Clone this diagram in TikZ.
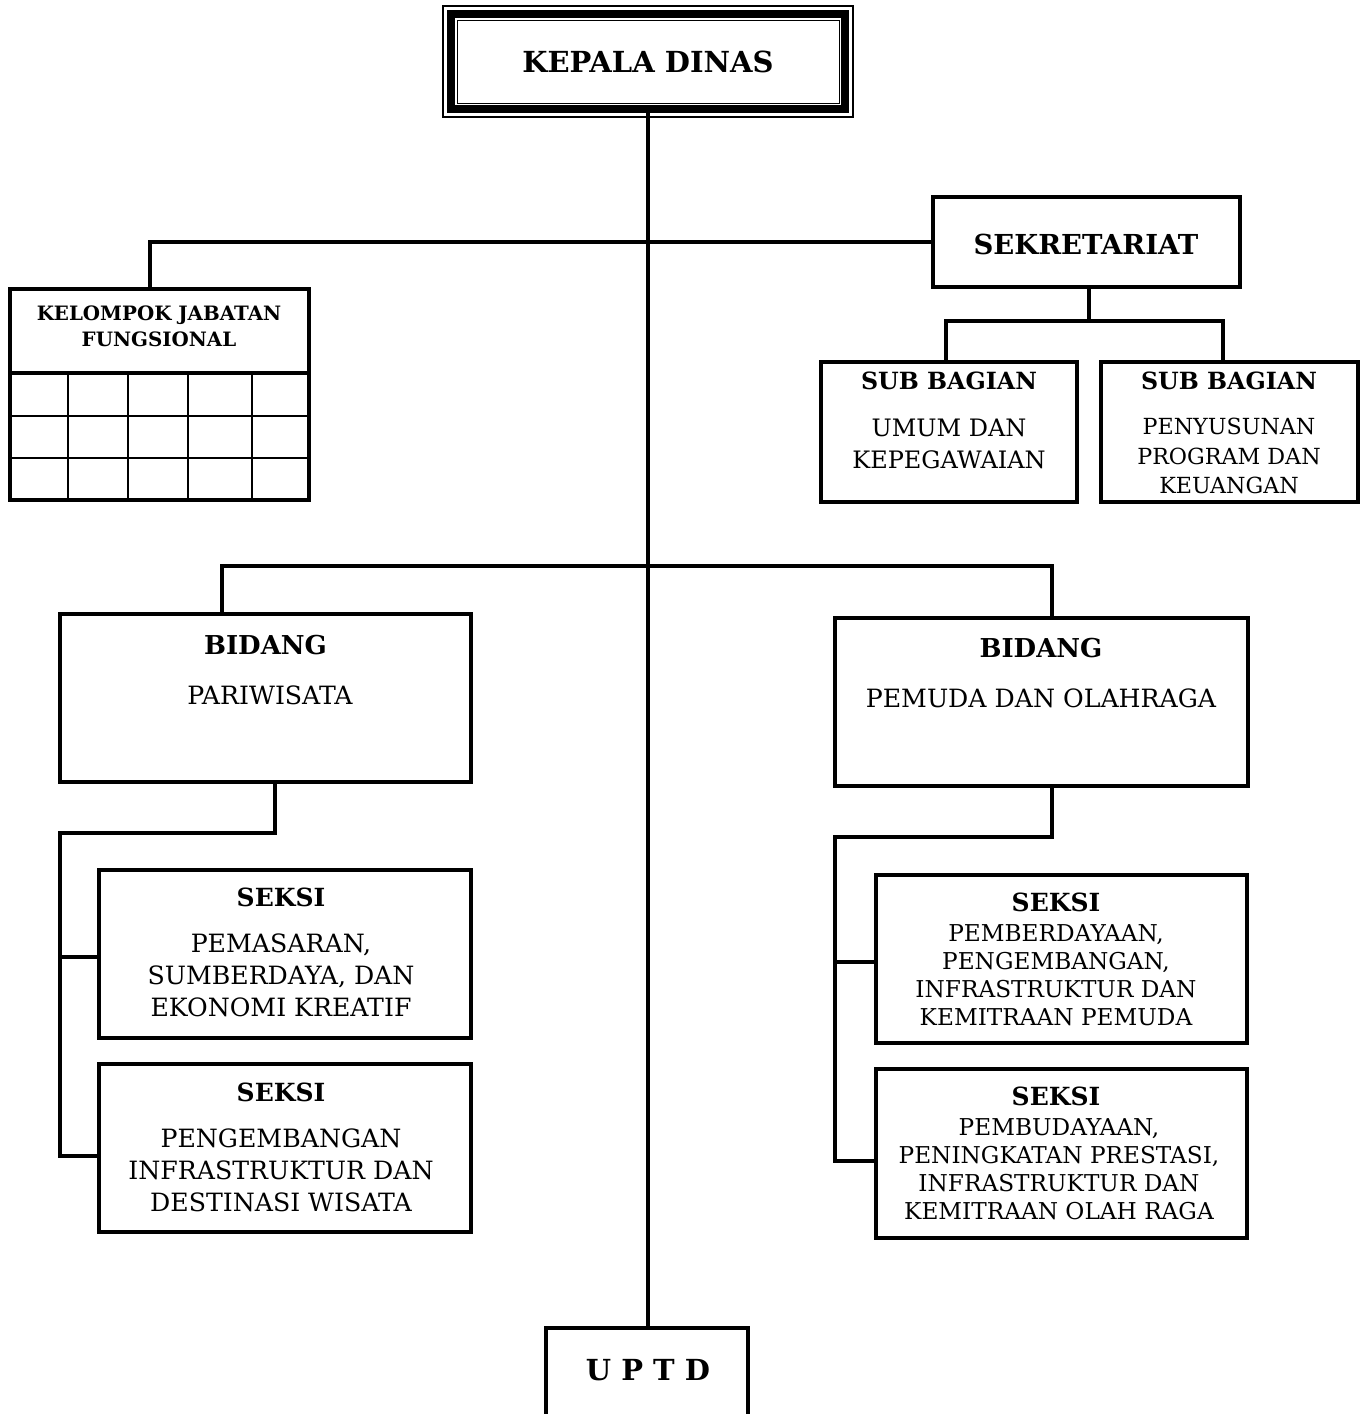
\documentclass[tikz,border=0pt]{standalone}
\usepackage{fontspec}
\setmainfont{DejaVu Serif}
\begin{document}
\begin{tikzpicture}[x=1pt,y=-1pt,
  box/.style={draw, line width=4pt, inner sep=0pt, outer sep=0pt},
  conn/.style={line width=4pt},
  lbl/.style={align=center, inner sep=0pt},
  bA/.style={font=\bfseries\fontsize{29}{36}\selectfont},
  bS/.style={font=\bfseries\fontsize{27.5}{32}\selectfont},
  bB/.style={font=\bfseries\fontsize{23.7}{30}\selectfont},
  bD/.style={font=\bfseries\fontsize{26}{30}\selectfont},
  bE/.style={font=\bfseries\fontsize{25}{30}\selectfont},
  bC/.style={font=\bfseries\fontsize{19.8}{26}\selectfont},
  rA/.style={font=\fontsize{25.2}{32}\selectfont},
  rU/.style={font=\fontsize{24}{32}\selectfont},
  rB/.style={font=\fontsize{22.2}{29.5}\selectfont},
  rC/.style={font=\fontsize{23.2}{28}\selectfont}]
\useasboundingbox (0,0) rectangle (1370,1414);
\clip (0,0) rectangle (1370,1414);

% KEPALA DINAS
\node[box, line width=8pt, minimum width=394pt, minimum height=95pt] (kd) at (648,61.5) {};
\draw[line width=1.2pt] ([shift={(-8,-8)}]kd.north west) rectangle ([shift={(8,8)}]kd.south east);
\draw[line width=0.8pt] ([shift={(6,6)}]kd.north west) rectangle ([shift={(-6,-6)}]kd.south east);
\node[lbl, bA] (kdt) at (648,62) {KEPALA DINAS};

% SEKRETARIAT
\node[box, minimum width=307pt, minimum height=90pt] (sek) at (1086.5,242) {};
\node[lbl, bS] (sekt) at (1086,244) {SEKRETARIAT};

% KELOMPOK JABATAN FUNGSIONAL
\node[box, minimum width=299pt, minimum height=211pt] (kjf) at (159.5,394.5) {};
\draw[line width=3.5pt] (10,373) -- (309,373);
\draw[line width=2pt] (10,416) -- (309,416) (10,458) -- (309,458);
\foreach \gx in {68,128,188,252} \draw[line width=2pt] (\gx,373) -- (\gx,500);
\node[lbl, bC] (kjft) at (159,326) {KELOMPOK JABATAN\\FUNGSIONAL};

% SUB BAGIAN
\node[box, minimum width=256pt, minimum height=140pt] (sb1) at (949,432) {};
\node[box, minimum width=257pt, minimum height=140pt] (sb2) at (1229.5,432) {};
\node[lbl, bB] (sb1h) at (949,381) {SUB BAGIAN};
\node[lbl, rU] (sb1t) at (949,444) {UMUM DAN\\KEPEGAWAIAN};
\node[lbl, bB] (sb2h) at (1229,381) {SUB BAGIAN};
\node[lbl, rB] (sb2t) at (1229,456) {PENYUSUNAN\\PROGRAM DAN\\KEUANGAN};

% BIDANG
\node[box, minimum width=411pt, minimum height=168pt] (bd1) at (265.5,698) {};
\node[box, minimum width=413pt, minimum height=168pt] (bd2) at (1041.5,702) {};
\node[lbl, bD] (bd1h) at (265.5,645) {BIDANG};
\node[lbl, rA] (bd1t) at (270,695) {PARIWISATA};
\node[lbl, bD] (bd2h) at (1041,648) {BIDANG};
\node[lbl, rA] (bd2t) at (1041,698) {PEMUDA DAN OLAHRAGA};

% SEKSI left
\node[box, minimum width=372pt, minimum height=168pt] (sl1) at (285,954) {};
\node[box, minimum width=372pt, minimum height=168pt] (sl2) at (285,1148) {};
\node[lbl, bE] (sl1h) at (281,897) {SEKSI};
\node[lbl, rA] (sl1t) at (281,975) {PEMASARAN,\\SUMBERDAYA, DAN\\EKONOMI KREATIF};
\node[lbl, bE] (sl2h) at (281,1092) {SEKSI};
\node[lbl, rA] (sl2t) at (281,1170) {PENGEMBANGAN\\INFRASTRUKTUR DAN\\DESTINASI WISATA};

% SEKSI right
\node[box, minimum width=371pt, minimum height=168pt] (sr1) at (1061.5,959) {};
\node[box, minimum width=371pt, minimum height=169pt] (sr2) at (1061.5,1153.5) {};
\node[lbl, bE] (sr1h) at (1056,902) {SEKSI};
\node[lbl, rC] (sr1t) at (1056,975.5) {PEMBERDAYAAN,\\PENGEMBANGAN,\\INFRASTRUKTUR DAN\\KEMITRAAN PEMUDA};
\node[lbl, bE] (sr2h) at (1056,1096) {SEKSI};
\node[lbl, rC] (sr2t) at (1059,1169.5) {PEMBUDAYAAN,\\PENINGKATAN PRESTASI,\\INFRASTRUKTUR DAN\\KEMITRAAN OLAH RAGA};

% UPTD
\node[box, minimum width=202pt, minimum height=144pt] (uptd) at (647,1400) {};
\node[lbl, bA] (uptdt) at (648,1370) {U P T D};

% connectors
\draw[conn] (kd.south) -- (648,1328);
\draw[conn] (sek.west) -| ([xshift=-9.5pt]kjf.north);
\coordinate (sj) at (1089,321);
\draw[conn] ([xshift=2.5pt]sek.south) -- (sj);
\draw[conn] ([xshift=-3pt]sb1.north) |- (sj) -| ([xshift=-6.5pt]sb2.north);
\coordinate (bj) at (648,566);
\draw[conn] ([xshift=-43.5pt]bd1.north) |- (bj) -| ([xshift=10.5pt]bd2.north);

\coordinate (lj) at (60,833);
\coordinate (b1) at ([yshift=-3pt]sl1.west);
\coordinate (b2) at ([yshift=-7.5pt]sl2.west);
\draw[conn] ([xshift=9.5pt]bd1.south) |- (lj) |- (b2);
\draw[conn] (b1) -- (b1 -| lj);

\coordinate (rj) at (835,837);
\coordinate (c1) at ([yshift=-3pt]sr1.west);
\coordinate (c2) at ([yshift=-7.5pt]sr2.west);
\draw[conn] ([xshift=10pt]bd2.south) |- (rj) |- (c2);
\draw[conn] (c1) -- (c1 -| rj);
\end{tikzpicture}
\end{document}
